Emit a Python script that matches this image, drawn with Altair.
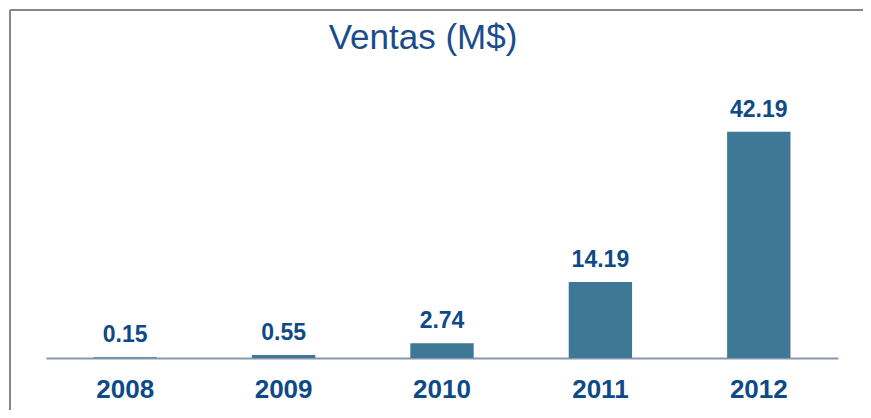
import altair as alt
import pandas as pd

years = ["2008", "2009", "2010", "2011", "2012"]
sales = [0.15, 0.55, 2.74, 14.19, 42.19]
labels = ["0.15", "0.55", "2.74", "14.19", "42.19"]

df = pd.DataFrame({"year": years, "sales": sales, "label": labels})

FONT = "Liberation Sans"
TXT = "#0E4A88"
BAR = "#3F7797"

x = alt.X("year:N", sort=years, title=None,
          scale=alt.Scale(paddingInner=0.6, paddingOuter=0.3),
          axis=alt.Axis(labelAngle=0, ticks=False, grid=False, labelFont=FONT,
                        labelFontSize=26, labelFontWeight="bold", labelColor=TXT,
                        labelPadding=18, domainColor="#8A96AE", domainWidth=2))
y = alt.Y("sales:Q", scale=alt.Scale(domain=[0, 50], nice=False), axis=None)

bars = alt.Chart(df).mark_bar(color=BAR).encode(x=x, y=y)
text = alt.Chart(df).mark_text(font=FONT, fontSize=23, fontWeight="bold", color=TXT,
                               baseline="alphabetic", dy=-15).encode(x=x, y=y, text="label:N")

frame_top = alt.Chart(df).mark_rule(color="#868686", strokeWidth=2).encode(
    x=alt.value(-36), x2=alt.value(830), y=alt.value(-80))
frame_left = alt.Chart(df).mark_rule(color="#868686", strokeWidth=2).encode(
    x=alt.value(-36), y=alt.value(-80), y2=alt.value(330))

chart = alt.layer(bars, text, frame_top, frame_left).properties(
    width=792, height=268,
    title=alt.TitleParams("Ventas (M$)", font=FONT, fontSize=35, fontWeight="normal",
                          color="#1A4C8C", anchor="middle", frame="group",
                          baseline="alphabetic", dx=-19, offset=0, dy=75),
    autosize=alt.AutoSizeParams(type="none"),
    padding={"left": 38, "top": 82, "right": 25, "bottom": 52},
).configure_view(stroke=None)

chart.save("out.html", embed_options={"renderer": "svg", "actions": False})
